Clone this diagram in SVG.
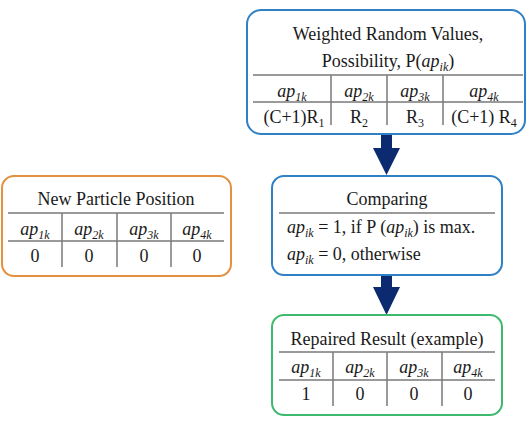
<svg xmlns="http://www.w3.org/2000/svg" width="528" height="433" viewBox="0 0 528 433">
<style>
text{font-family:"Liberation Serif","Times New Roman",serif;font-size:18px;fill:#1a1a1a}
.c{text-anchor:middle}
.i{font-style:italic}
.s{font-size:12px}
.box{fill:#fff;stroke-width:2}
.tl{stroke:#7a7a7a;stroke-width:1.5;fill:none}
.arr{fill:#0b2a6f}
</style>
<rect width="528" height="433" fill="#fff"/>
<g id="connectors">
<polygon class="arr" points="381,134 392,134 392,148 400,148 386.5,175 373,148 381,148"/>
<polygon class="arr" points="381,275 392,275 392,287 400,287 386.5,315 373,287 381,287"/>
</g>
<g id="weighted">
<rect class="box" x="247" y="10" width="278" height="124" rx="14" stroke="#2f80c4"/>
<text class="c" x="388" y="40">Weighted Random Values,</text>
<text class="c" x="388" y="67">Possibility, P(<tspan class="i">ap</tspan><tspan class="i s" dy="4">ik</tspan><tspan dy="-4">)</tspan></text>
<path class="tl" d="M253,75H523M253,102H523M331,75V125M387,75V125M443,75V125"/>
<text class="c i" x="292" y="97">ap<tspan class="s" dy="4">1k</tspan></text>
<text class="c i" x="359" y="97">ap<tspan class="s" dy="4">2k</tspan></text>
<text class="c i" x="415" y="97">ap<tspan class="s" dy="4">3k</tspan></text>
<text class="c i" x="484" y="97">ap<tspan class="s" dy="4">4k</tspan></text>
<text class="c" x="294" y="123">(C+1)R<tspan class="s" dy="4">1</tspan></text>
<text class="c" x="359" y="123">R<tspan class="s" dy="4">2</tspan></text>
<text class="c" x="415" y="123">R<tspan class="s" dy="4">3</tspan></text>
<text class="c" x="484" y="123">(C+1) R<tspan class="s" dy="4">4</tspan></text>
</g>
<g id="newparticle">
<rect class="box" x="2" y="176" width="229" height="100" rx="12" stroke="#e3913f"/>
<text class="c" x="116" y="205">New Particle Position</text>
<path class="tl" d="M8,213H224M8,241H224M62,213V267M117,213V267M171,213V267"/>
<text class="c i" x="35" y="235">ap<tspan class="s" dy="4">1k</tspan></text>
<text class="c i" x="89" y="235">ap<tspan class="s" dy="4">2k</tspan></text>
<text class="c i" x="144" y="235">ap<tspan class="s" dy="4">3k</tspan></text>
<text class="c i" x="197" y="235">ap<tspan class="s" dy="4">4k</tspan></text>
<text class="c" x="35" y="262">0</text>
<text class="c" x="89" y="262">0</text>
<text class="c" x="144" y="262">0</text>
<text class="c" x="197" y="262">0</text>
</g>
<g id="comparing">
<rect class="box" x="272" y="176" width="230" height="99" rx="12" stroke="#2f80c4"/>
<text class="c" x="387" y="205">Comparing</text>
<path class="tl" d="M279,213H495"/>
<text x="287" y="233"><tspan class="i">ap</tspan><tspan class="i s" dy="4">ik</tspan><tspan dy="-4"> = 1, if P (</tspan><tspan class="i">ap</tspan><tspan class="i s" dy="4">ik</tspan><tspan dy="-4">) is max.</tspan></text>
<text x="287" y="260"><tspan class="i">ap</tspan><tspan class="i s" dy="4">ik</tspan><tspan dy="-4"> = 0, otherwise</tspan></text>
</g>
<g id="repaired">
<rect class="box" x="272" y="315" width="230" height="100" rx="12" stroke="#3dba6e"/>
<text class="c" x="387" y="345">Repaired Result (example)</text>
<path class="tl" d="M279,352H495M279,380H495M333,352V406M387,352V406M442,352V406"/>
<text class="c i" x="306" y="373">ap<tspan class="s" dy="4">1k</tspan></text>
<text class="c i" x="360" y="373">ap<tspan class="s" dy="4">2k</tspan></text>
<text class="c i" x="414" y="373">ap<tspan class="s" dy="4">3k</tspan></text>
<text class="c i" x="468" y="373">ap<tspan class="s" dy="4">4k</tspan></text>
<text class="c" x="306" y="400">1</text>
<text class="c" x="360" y="400">0</text>
<text class="c" x="414" y="400">0</text>
<text class="c" x="468" y="400">0</text>
</g>
</svg>
